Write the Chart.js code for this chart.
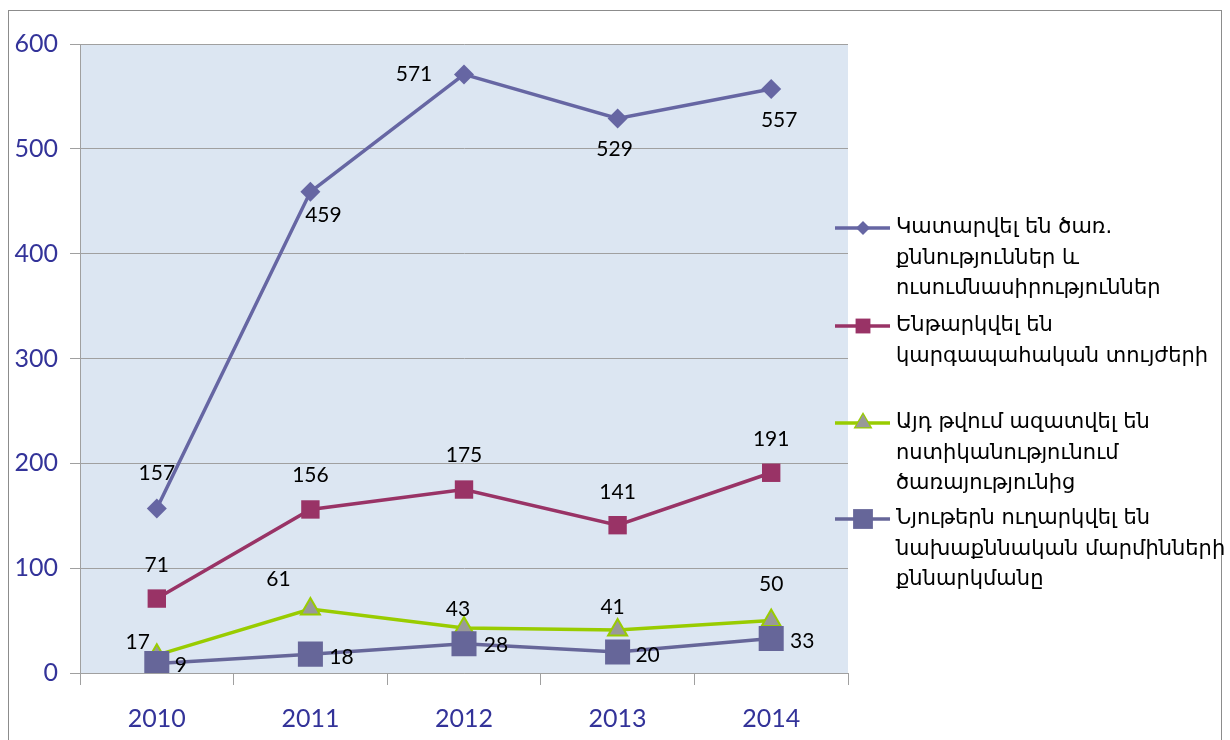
<!DOCTYPE html>
<html>
<head>
<meta charset="utf-8">
<script src="https://cdn.jsdelivr.net/npm/chart.js@4/dist/chart.umd.min.js"></script>
<style>
  body { margin: 0; background: #fff; }
  #wrap { width: 1230px; height: 740px; }
</style>
</head>
<body>
<div id="wrap"><canvas id="chart" width="1230" height="740"></canvas></div>
<script>
// categories
const years = ['2010', '2011', '2012', '2013', '2014'];

// series values
const studies = [157, 459, 571, 529, 557];
const disciplined = [71, 156, 175, 141, 191];
const dismissed = [17, 61, 43, 41, 50];
const referred = [9, 18, 28, 20, 33];

// series names, as wrapped in the legend
const studiesName = ['Կատարվել են ծառ.', 'քննություններ և', 'ուսումնասիրություններ'];
const disciplinedName = ['Ենթարկվել են', 'կարգապահական տույժերի'];
const dismissedName = ['Այդ թվում ազատվել են', 'ոստիկանությունում', 'ծառայությունից'];
const referredName = ['Նյութերն ուղարկվել են', 'նախաքննական մարմինների', 'քննարկմանը'];

// where each value label sits relative to its point (px)
const labelOffsets = [
    [[0, -35], [13, 23], [-50, 0], [-3, 31], [8, 31]],
    [[0, -33], [0, -34], [0, -34], [0, -33], [0, -34]],
    [[-19, -13], [-32, -30], [-6, -19], [-5, -23], [0, -36]],
    [[24, 2], [31, 3], [32, 2], [30, 3], [31, 3]]
];

const axisBlue = '#333399';
const gridGray = '#a0a0a0';

/****** plugins ******/
const frame = {
    id: 'frame',
    beforeDraw(chart) {
        const { ctx, chartArea: a } = chart;
        ctx.save();
        ctx.fillStyle = '#dce6f2';
        ctx.fillRect(a.left, a.top, a.right - a.left, a.bottom - a.top);
        ctx.strokeStyle = '#8c8c8c';
        ctx.lineWidth = 1;
        ctx.strokeRect(8.5, 10.5, 1213, 800);
        ctx.restore();
    }
};

const valueLabels = {
    id: 'valueLabels',
    afterDatasetsDraw(chart) {
        const ctx = chart.ctx;
        ctx.save();
        ctx.font = '21px Lato';
        ctx.fillStyle = '#000';
        ctx.textAlign = 'center';
        ctx.textBaseline = 'middle';
        chart.data.datasets.forEach((ds, i) => {
            chart.getDatasetMeta(i).data.forEach((pt, j) => {
                const off = labelOffsets[i][j];
                ctx.fillText(ds.data[j], pt.x + off[0], pt.y + off[1]);
            });
        });
        ctx.restore();
    }
};

const drawMarker = (ctx, style, r, x, y) => {
    ctx.beginPath();
    if (style === 'rectRot') {
        ctx.moveTo(x - r, y); ctx.lineTo(x, y - r); ctx.lineTo(x + r, y); ctx.lineTo(x, y + r);
    } else if (style === 'triangle') {
        ctx.moveTo(x, y - r);
        ctx.lineTo(x + r * 0.866, y + r * 0.5);
        ctx.lineTo(x - r * 0.866, y + r * 0.5);
    } else {
        const h = r * Math.SQRT1_2;
        ctx.rect(x - h, y - h, 2 * h, 2 * h);
    }
    ctx.closePath();
    ctx.fill();
};

// legend entries: first line y of each entry
const legendTops = [228, 326, 423, 519];
const legendNames = [studiesName, disciplinedName, dismissedName, referredName];
const legendMarkerSize = [7, 10.5, 9.5, 14];

const sideLegend = {
    id: 'sideLegend',
    afterDraw(chart) {
        const ctx = chart.ctx;
        ctx.save();
        chart.data.datasets.forEach((ds, i) => {
            const y = legendTops[i];
            ctx.strokeStyle = ds.borderColor;
            ctx.lineWidth = 3.5;
            ctx.beginPath();
            ctx.moveTo(835, y);
            ctx.lineTo(890, y);
            ctx.stroke();
            ctx.fillStyle = ds.pointBorderColor || ds.borderColor;
            drawMarker(ctx, ds.pointStyle, legendMarkerSize[i] + (ds.pointBorderWidth ? 1.5 : 0), 863, y);
            if (ds.pointBorderWidth) {
                ctx.fillStyle = ds.pointBackgroundColor;
                drawMarker(ctx, ds.pointStyle, legendMarkerSize[i] - 1, 863, y);
            }
            ctx.fillStyle = '#000';
            ctx.font = '21px "DejaVu Sans"';
            ctx.textBaseline = 'middle';
            legendNames[i].forEach((line, k) => ctx.fillText(line, 896, y + k * 30.5));
        });
        ctx.restore();
    }
};

/****** chart ******/
const data = {
    labels: years,
    datasets: [{
        label: studiesName.join(' '),
        data: studies,
        borderColor: '#6666a3',
        backgroundColor: '#6666a3',
        pointStyle: 'rectRot',
        pointRadius: 10,
        order: 0
    }, {
        label: disciplinedName.join(' '),
        data: disciplined,
        borderColor: '#993366',
        backgroundColor: '#993366',
        pointStyle: 'rect',
        pointRadius: 13,
        order: 0
    }, {
        label: dismissedName.join(' '),
        data: dismissed,
        borderColor: '#99cc00',
        backgroundColor: '#99cc00',
        pointStyle: 'triangle',
        pointRadius: 11,
        pointBackgroundColor: '#999999',
        pointBorderColor: '#99cc00',
        pointBorderWidth: 2,
        order: 1
    }, {
        label: referredName.join(' '),
        data: referred,
        borderColor: '#666699',
        backgroundColor: '#666699',
        pointStyle: 'rect',
        pointRadius: 17.7,
        order: 0
    }]
};

const config = {
    type: 'line',
    data: data,
    options: {
        responsive: false,
        animation: false,
        layout: {
            padding: { left: 0, right: 382, top: 44, bottom: 0 }
        },
        elements: {
            line: { borderWidth: 3.5, tension: 0 },
            point: { borderWidth: 0, hoverRadius: 0 }
        },
        plugins: {
            legend: { display: false },
            tooltip: { enabled: false }
        },
        scales: {
            x: {
                offset: true,
                grid: {
                    offset: true,
                    drawOnChartArea: false,
                    tickLength: 12,
                    color: gridGray
                },
                border: { color: gridGray },
                ticks: {
                    color: axisBlue,
                    font: { family: 'Lato', size: 25 },
                    padding: 19
                },
                afterFit: s => { s.height = 67; }
            },
            y: {
                min: 0,
                max: 600,
                ticks: {
                    stepSize: 100,
                    color: axisBlue,
                    font: { family: 'Lato', size: 25 },
                    padding: 12
                },
                grid: { tickLength: 10, color: gridGray },
                border: { color: gridGray },
                afterFit: s => { s.width = 80; }
            }
        }
    },
    plugins: [frame, valueLabels, sideLegend]
};

const graph = new Chart(document.getElementById('chart'), config);
</script>
</body>
</html>
